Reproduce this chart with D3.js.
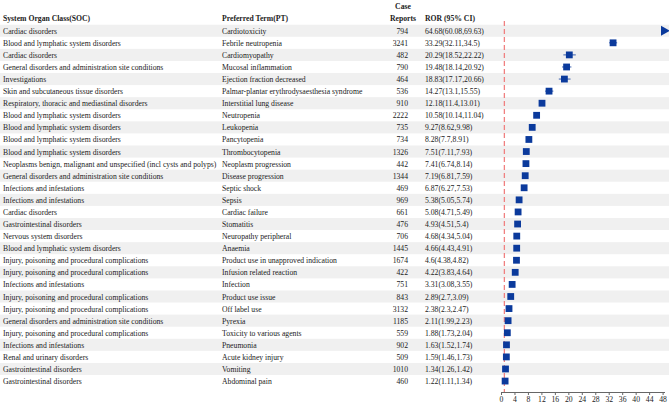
<!DOCTYPE html>
<html><head><meta charset="utf-8">
<script src="https://cdn.jsdelivr.net/npm/d3@7"></script>
<style>body{margin:0;background:#fff}svg{display:block}text{font-family:"Liberation Serif","Times New Roman",serif}</style>
</head><body><svg id="c" width="669" height="405"></svg>
<script>
const soc = ["Cardiac disorders","Blood and lymphatic system disorders","Cardiac disorders","General disorders and administration site conditions","Investigations","Skin and subcutaneous tissue disorders","Respiratory, thoracic and mediastinal disorders","Blood and lymphatic system disorders","Blood and lymphatic system disorders","Blood and lymphatic system disorders","Blood and lymphatic system disorders","Neoplasms benign, malignant and unspecified (incl cysts and polyps)","General disorders and administration site conditions","Infections and infestations","Infections and infestations","Cardiac disorders","Gastrointestinal disorders","Nervous system disorders","Blood and lymphatic system disorders","Injury, poisoning and procedural complications","Injury, poisoning and procedural complications","Infections and infestations","Injury, poisoning and procedural complications","Injury, poisoning and procedural complications","General disorders and administration site conditions","Injury, poisoning and procedural complications","Infections and infestations","Renal and urinary disorders","Gastrointestinal disorders","Gastrointestinal disorders"];
const pt = ["Cardiotoxicity","Febrile neutropenia","Cardiomyopathy","Mucosal inflammation","Ejection fraction decreased","Palmar-plantar erythrodysaesthesia syndrome","Interstitial lung disease","Neutropenia","Leukopenia","Pancytopenia","Thrombocytopenia","Neoplasm progression","Disease progression","Septic shock","Sepsis","Cardiac failure","Stomatitis","Neuropathy peripheral","Anaemia","Product use in unapproved indication","Infusion related reaction","Infection","Product use issue","Off label use","Pyrexia","Toxicity to various agents","Pneumonia","Acute kidney injury","Vomiting","Abdominal pain"];
const cases = [794,3241,482,790,464,536,910,2222,735,734,1326,442,1344,469,969,661,476,706,1445,1674,422,751,843,3132,1185,559,902,509,1010,460];
const ror = [64.68,33.29,20.29,19.48,18.83,14.27,12.18,10.58,9.27,8.28,7.51,7.41,7.19,6.87,5.38,5.08,4.93,4.68,4.66,4.6,4.22,3.31,2.89,2.38,2.11,1.88,1.63,1.59,1.34,1.22];
const lower = [60.08,32.11,18.52,18.14,17.17,13.1,11.4,10.14,8.62,7.7,7.11,6.74,6.81,6.27,5.05,4.71,4.51,4.34,4.43,4.38,3.83,3.08,2.7,2.3,1.99,1.73,1.52,1.46,1.26,1.11];
const upper = [69.63,34.5,22.22,20.92,20.66,15.55,13.01,11.04,9.98,8.91,7.93,8.14,7.59,7.53,5.74,5.49,5.4,5.04,4.91,4.82,4.64,3.55,3.09,2.47,2.23,2.04,1.74,1.73,1.42,1.34];
const rorLabel = ["64.68(60.08,69.63)","33.29(32.11,34.5)","20.29(18.52,22.22)","19.48(18.14,20.92)","18.83(17.17,20.66)","14.27(13.1,15.55)","12.18(11.4,13.01)","10.58(10.14,11.04)","9.27(8.62,9.98)","8.28(7.7,8.91)","7.51(7.11,7.93)","7.41(6.74,8.14)","7.19(6.81,7.59)","6.87(6.27,7.53)","5.38(5.05,5.74)","5.08(4.71,5.49)","4.93(4.51,5.4)","4.68(4.34,5.04)","4.66(4.43,4.91)","4.6(4.38,4.82)","4.22(3.83,4.64)","3.31(3.08,3.55)","2.89(2.7,3.09)","2.38(2.3,2.47)","2.11(1.99,2.23)","1.88(1.73,2.04)","1.63(1.52,1.74)","1.59(1.46,1.73)","1.34(1.26,1.42)","1.22(1.11,1.34)"];
const xTicks = [0,4,8,12,16,20,24,28,32,36,40,44,48];

const svg = d3.select("#c");
const n = pt.length;
const y = d3.scaleBand().domain(d3.range(n)).range([24.7, 24.7 + 12.08*n]).padding(0);
const x = d3.scaleLinear().domain([0,48]).range([501, 662.6]);
const xMax = 49.5;
const fs = 7.7;

// stripes
svg.append("g").selectAll("rect").data(d3.range(n).filter(i=>i%2===0)).join("rect")
  .attr("x",0).attr("width",669).attr("y",i=>y(i)).attr("height",y.bandwidth()).attr("fill","#f0f0f0");

// headers
const hdr = svg.append("g").attr("font-size",fs).attr("font-weight","bold").attr("fill","#222");
hdr.append("text").attr("x",3).attr("y",21).text("System Organ Class(SOC)");
hdr.append("text").attr("x",222).attr("y",21).text("Preferred Term(PT)");
hdr.append("text").attr("x",403).attr("y",9).attr("text-anchor","middle").text("Case");
hdr.append("text").attr("x",403).attr("y",21).attr("text-anchor","middle").text("Reports");
hdr.append("text").attr("x",425).attr("y",21).text("ROR (95% CI)");

// row texts
const rows = svg.append("g").attr("font-size",fs).attr("fill","#222");
const cy = i => y(i) + y.bandwidth()/2;
rows.selectAll(".soc").data(soc).join("text").attr("x",3).attr("y",(d,i)=>cy(i)+3).text(d=>d);
rows.selectAll(".pt").data(pt).join("text").attr("x",222).attr("y",(d,i)=>cy(i)+3).text(d=>d);
rows.selectAll(".cs").data(cases).join("text").attr("x",408).attr("y",(d,i)=>cy(i)+3).attr("text-anchor","end").text(d=>d);
rows.selectAll(".ror").data(rorLabel).join("text").attr("x",425).attr("y",(d,i)=>cy(i)+3).text(d=>d);

// reference line at 1
svg.append("line").attr("x1",x(1)).attr("x2",x(1)).attr("y1",21).attr("y2",392)
  .attr("stroke","#f08080").attr("stroke-width",1.3).attr("stroke-dasharray","5,3");

// error bars and markers
const blue = "#0b3a9c";
const pts = svg.append("g");
d3.range(n).forEach(i=>{
  if (ror[i] > xMax) {
    const xx = 661, yy = cy(i);
    pts.append("path").attr("d",`M${xx},${yy-5}L${xx+9},${yy}L${xx},${yy+5}Z`).attr("fill",blue);
  } else {
    pts.append("line").attr("x1",x(lower[i])).attr("x2",x(upper[i])).attr("y1",cy(i)).attr("y2",cy(i))
      .attr("stroke",blue).attr("stroke-width",0.8);
    const s = 6.8;
    pts.append("rect").attr("x",x(ror[i])-s/2).attr("y",cy(i)-s/2).attr("width",s).attr("height",s).attr("fill",blue);
  }
});

// axis
const ax = svg.append("g").attr("transform","translate(0,392)")
  .call(d3.axisBottom(x).tickValues(xTicks).tickSize(3).tickPadding(2));
ax.select(".domain").attr("stroke","#666").attr("d","M501,0.5H665");
ax.selectAll(".tick line").attr("stroke","#666");
ax.selectAll("text").attr("font-size",fs).attr("fill","#222").attr("font-family","Liberation Serif");
</script></body></html>
